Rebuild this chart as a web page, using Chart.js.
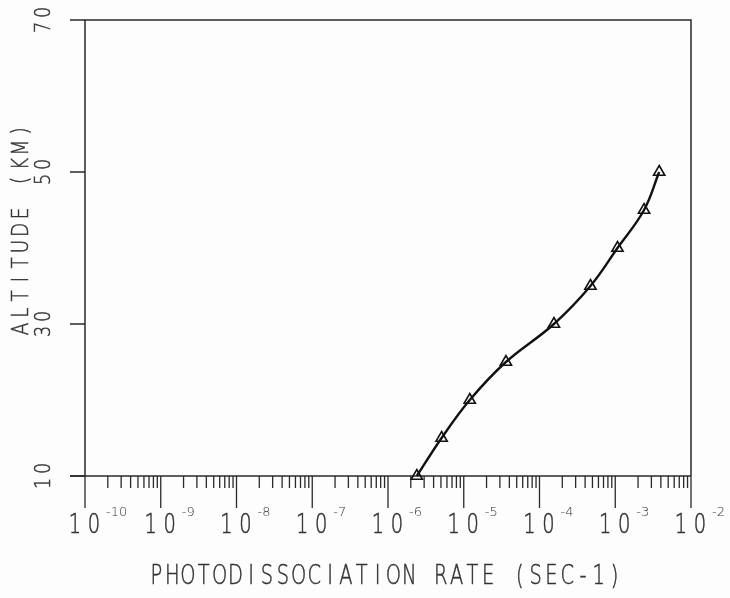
<!DOCTYPE html>
<html>
<head>
<meta charset="utf-8">
<script src="https://cdn.jsdelivr.net/npm/chart.js@4"></script>
<style>
  html, body { margin: 0; padding: 0; background: #fdfdfd; }
  #wrap { width: 730px; height: 598px; }
</style>
</head>
<body>
<div id="wrap"><canvas id="chart" width="730" height="598"></canvas></div>
<script>
// values
var altitudeKm = [10, 15, 20, 25, 30, 35, 40, 45, 50];
var photoRate = [2.4e-6, 5.1e-6, 1.2e-5, 3.6e-5, 1.55e-4, 4.7e-4, 1.07e-3, 2.4e-3, 3.8e-3];

var xTickExps = [-10, -9, -8, -7, -6, -5, -4, -3, -2];
var yTickValues = [10, 30, 50, 70];
var xTitle = 'PHOTODISSOCIATION RATE (SEC-1)';
var yTitle = 'ALTITUDE (KM)';

var ink = '#2a2a2a';
var textInk = '#333';
var fam = '"DejaVu Sans", sans-serif';

var points = [];
for (var i = 0; i < altitudeKm.length; i++) {
  points.push({x: photoRate[i], y: altitudeKm[i]});
}

// plotter style text: fixed pitch, narrow letters
function plotText(ctx, text, cx, cy, pitch, squeeze) {
  var start = cx - pitch * text.length / 2 + pitch / 2;
  for (var k = 0; k < text.length; k++) {
    ctx.save();
    ctx.translate(start + k * pitch, cy);
    ctx.scale(squeeze, 1);
    ctx.fillText(text[k], 0, 0);
    ctx.strokeText(text[k], 0, 0);
    ctx.restore();
  }
}

var plotterAxes = {
  id: 'plotterAxes',
  beforeDatasetsDraw: function(chart) {
    var ctx = chart.ctx;
    var xs = chart.scales.x, ys = chart.scales.y;
    var a = chart.chartArea;
    ctx.save();
    ctx.strokeStyle = ink;
    ctx.lineWidth = 1.5;

    // frame
    ctx.beginPath();
    ctx.moveTo(a.left, a.bottom);
    ctx.lineTo(a.left, a.top);
    ctx.lineTo(a.right, a.top);
    ctx.lineTo(a.right, a.bottom);
    ctx.moveTo(a.left - 15, a.bottom);
    ctx.lineTo(a.right, a.bottom);
    ctx.stroke();

    // y ticks (out to the left)
    ctx.beginPath();
    yTickValues.forEach(function(v) {
      var py = ys.getPixelForValue(v);
      ctx.moveTo(a.left - 15, py);
      ctx.lineTo(a.left, py);
    });
    ctx.stroke();

    // x ticks: majors long, minors short, all hanging below the axis
    ctx.lineWidth = 1.3;
    ctx.beginPath();
    xTickExps.forEach(function(e, idx) {
      var px = xs.getPixelForValue(Math.pow(10, e));
      ctx.moveTo(px, a.bottom);
      ctx.lineTo(px, a.bottom + 32);
      if (idx < xTickExps.length - 1) {
        for (var m = 2; m <= 9; m++) {
          var mx = xs.getPixelForValue(m * Math.pow(10, e));
          ctx.moveTo(mx, a.bottom);
          ctx.lineTo(mx, a.bottom + 12);
        }
      }
    });
    ctx.stroke();

    // labels
    ctx.fillStyle = textInk;
    ctx.strokeStyle = textInk;
    ctx.lineWidth = 0.5;
    ctx.textAlign = 'center';
    ctx.textBaseline = 'middle';
    ctx.font = '200 27px ' + fam;
    xTickExps.forEach(function(e) {
      var px = xs.getPixelForValue(Math.pow(10, e));
      plotText(ctx, '10', px - 0.5, 526, 19, 0.72);
      ctx.save();
      ctx.font = '200 13px ' + fam;
      ctx.textAlign = 'left';
      ctx.fillText(String(e), px + 21, 513);
      ctx.restore();
    });

    ctx.font = '200 22px ' + fam;
    yTickValues.forEach(function(v) {
      var py = ys.getPixelForValue(v);
      ctx.save();
      ctx.translate(44, py);
      ctx.rotate(-Math.PI / 2);
      plotText(ctx, String(v), 0, 0, 15, 0.8);
      ctx.restore();
    });

    // axis titles
    ctx.font = '200 27px ' + fam;
    plotText(ctx, xTitle, 385.5, 577, 15.8, 0.72);
    ctx.font = '200 23px ' + fam;
    ctx.save();
    ctx.translate(22, 230);
    ctx.rotate(-Math.PI / 2);
    plotText(ctx, yTitle, 0, 0, 16.5, 0.8);
    ctx.restore();

    ctx.restore();
  }
};

new Chart(document.getElementById('chart'), {
  type: 'scatter',
  data: {
    datasets: [{
      data: points,
      showLine: true,
      tension: 0.4,
      borderColor: '#111',
      borderWidth: 2.4,
      pointStyle: 'triangle',
      pointRadius: 6.5,
      pointBorderWidth: 1.6,
      pointBorderColor: '#111',
      pointBackgroundColor: 'rgba(255,255,255,0)',
      clip: false
    }]
  },
  options: {
    responsive: false,
    animation: false,
    layout: {padding: {left: 85, top: 20, right: 39, bottom: 122}},
    plugins: {legend: {display: false}, tooltip: {enabled: false}},
    scales: {
      x: {type: 'logarithmic', min: 1e-10, max: 1e-2, display: false},
      y: {type: 'linear', min: 10, max: 70, display: false}
    }
  },
  plugins: [plotterAxes]
});
</script>
</body>
</html>
